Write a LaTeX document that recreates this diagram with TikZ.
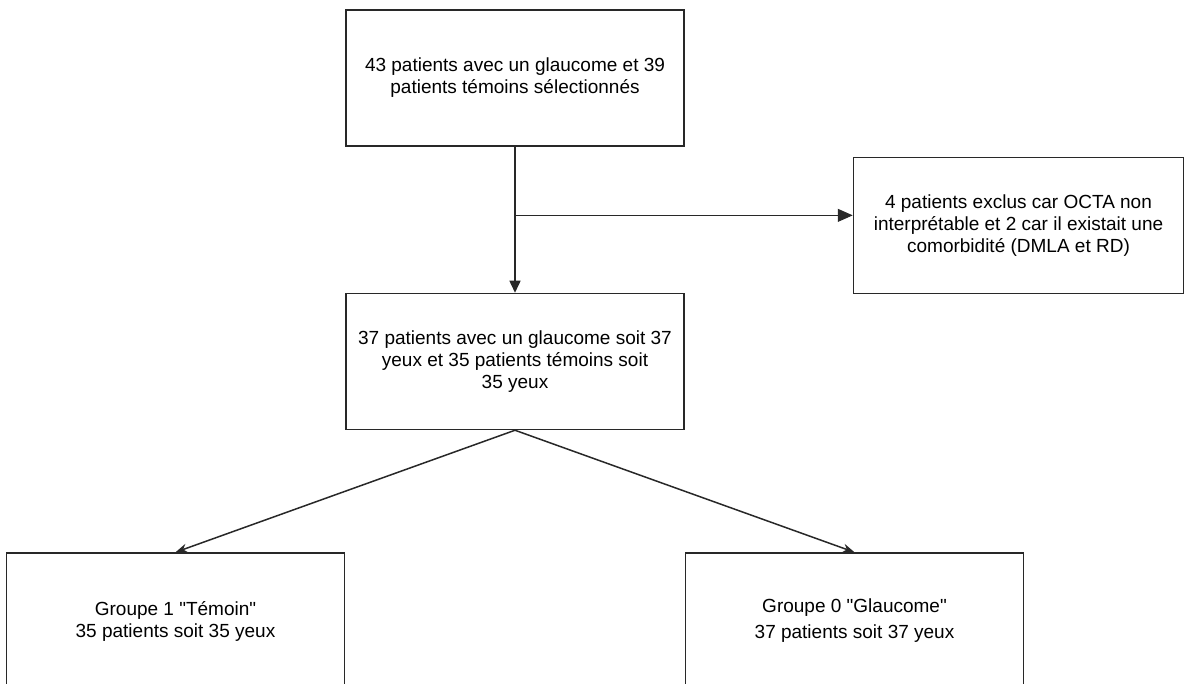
\documentclass[tikz,border=0pt]{standalone}
\usepackage{fontspec}
\setmainfont{Liberation Sans}
\usepackage{tikz}
\usetikzlibrary{arrows.meta,positioning,calc}
\definecolor{FlowGrey}{RGB}{40,40,40}

\begin{document}
\begin{tikzpicture}[x=1pt,y=1pt,>={Triangle[length=12pt,width=11pt]},every node/.style={font=\fontsize{19}{22}\selectfont}]
\tikzset{fbox/.style={draw=FlowGrey,line width=1.5pt,minimum width=338pt,minimum height=136pt,align=center,inner sep=0pt},link/.style={draw=FlowGrey,line width=1.5pt},split/.style={-{Stealth[length=12pt,width=9pt]},draw=FlowGrey,line width=1.5pt}}
\useasboundingbox (0,0) rectangle (1186,684);
\node[fbox] (sel) at (515,606) {43 patients avec un glaucome et 39\\patients témoins sélectionnés};
\node[fbox,below=146pt of sel] (incl) {37 patients avec un glaucome soit 37\\yeux et 35 patients témoins soit\\35 yeux};
\node[fbox,minimum width=330pt,below right=10pt and 168pt of sel.south east] (excl) {4 patients exclus car OCTA non\\interprétable et 2 car il existait une\\comorbidité (DMLA et RD)};
\node[fbox,below left=122pt and 0pt of incl.south west] (temoin) {Groupe 1 \textquotedbl Témoin\textquotedbl\\35 patients soit 35 yeux};
\node[fbox,below right=122pt and 0pt of incl.south east] (glauc) {Groupe 0 \textquotedbl Glaucome\textquotedbl\\[4pt]37 patients soit 37 yeux};
\coordinate (fork) at ($(sel.south)!0.47!(incl.north)$);
\draw[->,link] (sel)--(incl);
\draw[-{Triangle[length=15pt,width=13pt]},draw=FlowGrey,line width=1pt] (fork)--(fork -| excl.west);
\draw[split] (incl.south)--(temoin.north);
\draw[split] (incl.south)--(glauc.north);
\end{tikzpicture}
\end{document}
